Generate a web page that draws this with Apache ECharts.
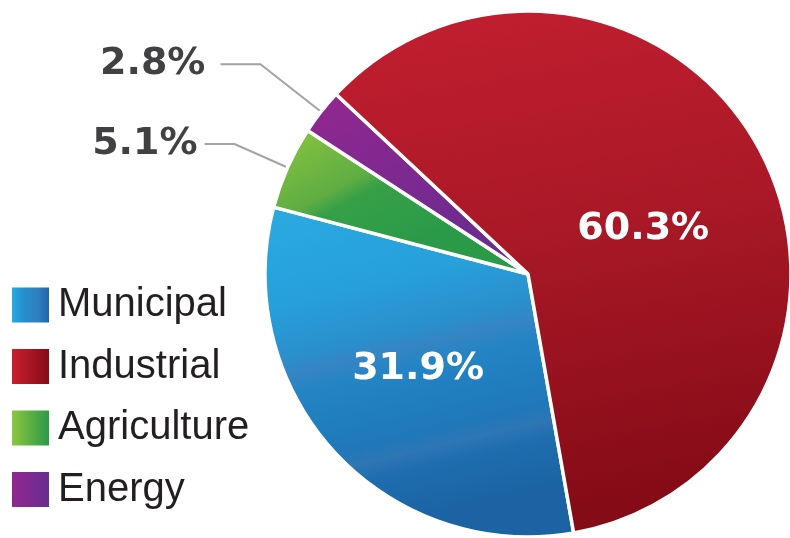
<!DOCTYPE html>
<html>
<head>
<meta charset="utf-8">
<script src="https://cdn.jsdelivr.net/npm/echarts@6/dist/echarts.min.js"></script>
<style>
html,body{margin:0;padding:0;background:#fff;}
#chart{width:790px;height:538px;}
</style>
</head>
<body>
<div id="chart"></div>
<script>
// Slices in clockwise drawing order
var categories = ['Municipal', 'Agriculture', 'Energy', 'Industrial'];
var values = [31.9, 5.1, 2.8, 60.3];
// Legend order
var legendOrder = ['Municipal', 'Industrial', 'Agriculture', 'Energy'];

function lg(x2, y2, stops) {
  return new echarts.graphic.LinearGradient(0, 0, x2, y2,
    stops.map(function (s) { return { offset: s[0], color: s[1] }; }));
}
var sliceColors = {
  Municipal: lg(0.25, 1, [[0, '#2aabe2'], [0.3, '#279fda'], [0.45, '#2a8fcc'], [0.5, '#3585c3'], [0.56, '#2384c4'], [0.75, '#1f78b9'], [0.8, '#2e76b4'], [0.85, '#1f6dae'], [1, '#1b63a3']]),
  Industrial: lg(0.2, 1, [[0, '#c31f30'], [0.5, '#a81826'], [1, '#850b17']]),
  Agriculture: lg(0.3, 1, [[0, '#8dc63f'], [0.5, '#5fad43'], [0.6, '#36a047'], [1, '#2b9a48']]),
  Energy: lg(0.3, 1, [[0, '#93278f'], [1, '#6c2b90']])
};
var legendColors = {
  Municipal: lg(1, 0, [[0, '#29abe2'], [0.3, '#2390cf'], [0.7, '#2f7fbf'], [1, '#1c66a8']]),
  Industrial: lg(1, 0, [[0, '#c8202f'], [1, '#860b17']]),
  Agriculture: lg(1, 0, [[0, '#8dc63f'], [1, '#2a9a48']]),
  Energy: lg(1, 0, [[0, '#93278f'], [1, '#662d91']])
};

var labelFont = 'DejaVu Sans, Verdana, sans-serif';
var insideLabel = { show: true, position: 'inside', color: '#ffffff', fontSize: 38, fontWeight: 'bold', fontFamily: labelFont };
var outsideLabel = { show: true, position: 'outside', color: '#414042', fontSize: 38, fontWeight: 'bold', fontFamily: labelFont };
var lineCfg = {
  Energy: { length: 77, length2: 40, dist: 15 },
  Agriculture: { length: 58, length2: 30, dist: 7 }
};
var labelShift = { Municipal: [-11, 4], Industrial: [-3, 19] };

var data = categories.map(function (name, i) {
  var item = { name: name, value: values[i], itemStyle: { color: sliceColors[name] } };
  if (lineCfg[name]) {
    item.label = Object.assign({}, outsideLabel, { distanceToLabelLine: lineCfg[name].dist });
    item.labelLine = { show: true, length: lineCfg[name].length, length2: lineCfg[name].length2, smooth: false, lineStyle: { color: '#a3a3a3', width: 2 } };
  } else {
    item.label = insideLabel;
    item.labelLine = { show: false };
  }
  return item;
});

var chart = echarts.init(document.getElementById('chart'));
chart.setOption({
  animation: false,
  legend: {
    orient: 'vertical',
    left: 12,
    top: 285,
    padding: 0,
    itemWidth: 37,
    itemHeight: 35,
    itemGap: 21.5,
    icon: 'rect',
    selectedMode: false,
    textStyle: { fontSize: 40, color: '#231f20', fontFamily: 'Liberation Sans, Arial, sans-serif', padding: [0, 0, 0, 4] },
    data: legendOrder.map(function (n) {
      return { name: n, itemStyle: { color: legendColors[n], borderWidth: 0 } };
    })
  },
  series: [{
    type: 'pie',
    center: [528, 274],
    radius: [0, 263],
    startAngle: 280,
    clockwise: true,
    avoidLabelOverlap: false,
    silent: true,
    itemStyle: { borderColor: '#ffffff', borderWidth: 3.5 },
    label: { formatter: '{c}%' },
    labelLayout: function (p) {
      var s = labelShift[categories[p.dataIndex]];
      return s ? { dx: s[0], dy: s[1] } : {};
    },
    data: data
  }]
});
</script>
</body>
</html>
